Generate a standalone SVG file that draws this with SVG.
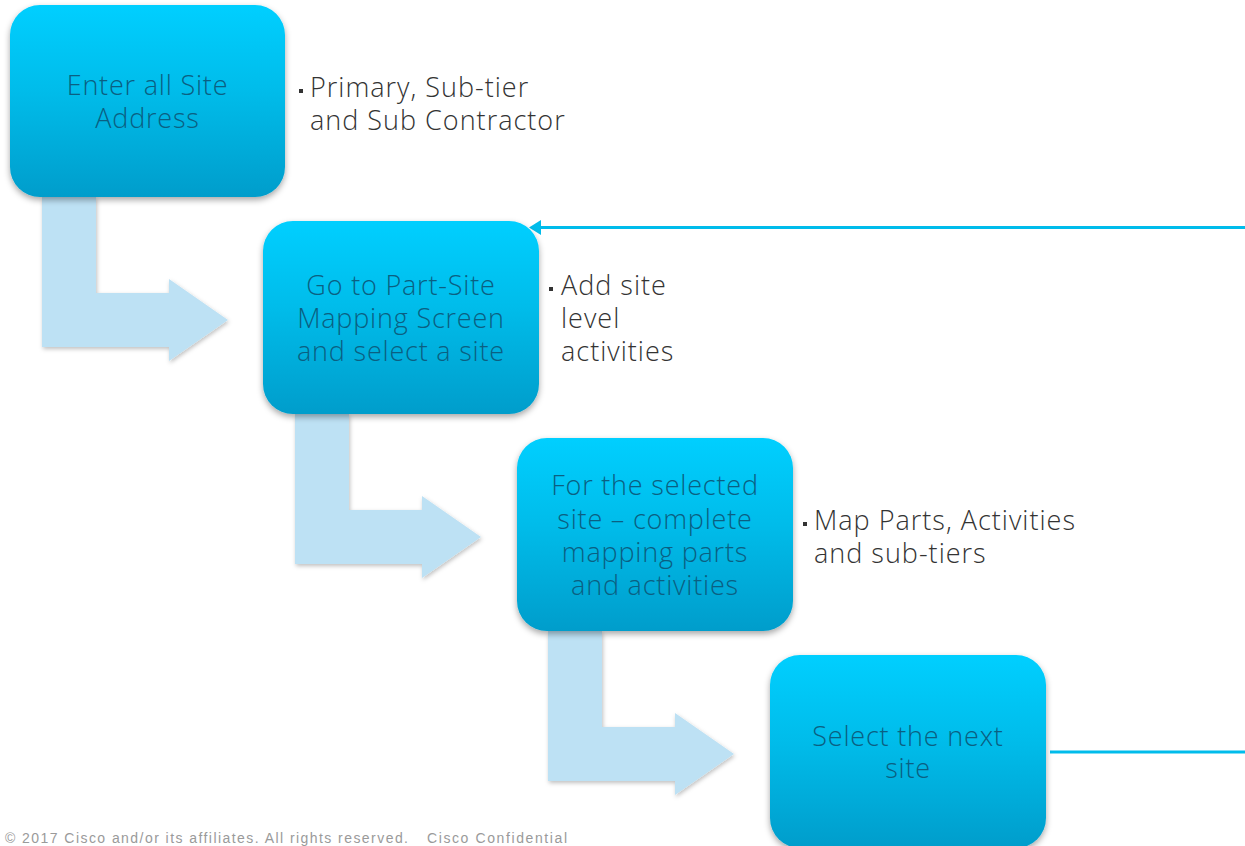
<svg xmlns="http://www.w3.org/2000/svg" width="1245" height="846" viewBox="0 0 1245 846">
<defs>
<linearGradient id="g" x1="0" y1="0" x2="0" y2="1">
<stop offset="0" stop-color="#00CFFF"/>
<stop offset="0.45" stop-color="#00BCEA"/>
<stop offset="1" stop-color="#009DCB"/>
</linearGradient>
<filter id="sh" x="-10%" y="-10%" width="120%" height="130%">
<feDropShadow dx="0" dy="3" stdDeviation="3" flood-color="#000" flood-opacity="0.35"/>
</filter>
<filter id="sh2" x="-10%" y="-10%" width="130%" height="130%">
<feDropShadow dx="1" dy="2" stdDeviation="2" flood-color="#000" flood-opacity="0.25"/>
</filter>
</defs>
<style>
.box{fill:url(#g);filter:url(#sh)}
.bt{font-family:"Open Sans",Lato,sans-serif;font-weight:300;font-size:27px;letter-spacing:0.8px;fill:#0B5F82;text-anchor:middle}
.tx{font-family:"Open Sans",Lato,sans-serif;font-weight:300;font-size:27px;letter-spacing:1px;fill:#333333}
.ft{font-family:"Liberation Sans",Arial,sans-serif;font-size:14px;fill:#9a9a9a}
.ln{stroke:#00BCEB;stroke-width:3;fill:none}
.ar{fill:#BDE1F4;filter:url(#sh2)}
</style>
<rect width="1245" height="846" fill="#ffffff"/>
<g id="arrows">
<path class="ar" d="M42,197 H96 V293 H169 V279 L228,320 L169,361 V347 H42 Z"/>
<path class="ar" d="M295,414 H349 V510 H422 V496 L481,537 L422,578 V564 H295 Z"/>
<path class="ar" d="M548,631 H602 V727 H675 V713 L734,754 L675,795 V781 H548 Z"/>
</g>
<g id="connectors">
<line class="ln" x1="1245" y1="227.5" x2="539" y2="227.5"/>
<polygon points="529,227.5 541,220 541,235" fill="#00BCEB"/>
<line class="ln" x1="1050" y1="752" x2="1245" y2="752"/>
</g>
<g id="node1">
<rect class="box" x="10" y="5" width="275" height="192" rx="30"/>
<text class="bt" x="147.5" y="95">Enter all Site</text>
<text class="bt" x="147.5" y="128">Address</text>
</g>
<g id="node2">
<rect class="box" x="263" y="221" width="276" height="193" rx="30"/>
<text class="bt" x="401" y="295">Go to Part-Site</text>
<text class="bt" x="401" y="328">Mapping Screen</text>
<text class="bt" x="401" y="361">and select a site</text>
</g>
<g id="node3">
<rect class="box" x="517" y="438" width="276" height="193" rx="30"/>
<text class="bt" x="655" y="495">For the selected</text>
<text class="bt" x="655" y="529">site – complete</text>
<text class="bt" x="655" y="562">mapping parts</text>
<text class="bt" x="655" y="595">and activities</text>
</g>
<g id="node4">
<rect class="box" x="770" y="655" width="276" height="193" rx="30"/>
<text class="bt" x="908" y="746">Select the next</text>
<text class="bt" x="908" y="778">site</text>
</g>
<g id="note1">
<rect x="299" y="89" width="4" height="4" fill="#333"/>
<text class="tx" x="310" y="97">Primary, Sub-tier</text>
<text class="tx" x="310" y="130">and Sub Contractor</text>
</g>
<g id="note2">
<rect x="549" y="287" width="4" height="4" fill="#333"/>
<text class="tx" x="561" y="295">Add site</text>
<text class="tx" x="561" y="328">level</text>
<text class="tx" x="561" y="361">activities</text>
</g>
<g id="note3">
<rect x="803" y="522" width="4" height="4" fill="#333"/>
<text class="tx" x="814" y="530">Map Parts, Activities</text>
<text class="tx" x="814" y="563">and sub-tiers</text>
</g>
<text class="ft" x="5" y="843" textLength="403" lengthAdjust="spacing">© 2017  Cisco and/or its affiliates. All rights reserved.</text>
<text class="ft" x="427" y="843" textLength="140" lengthAdjust="spacing">Cisco Confidential</text>
</svg>
